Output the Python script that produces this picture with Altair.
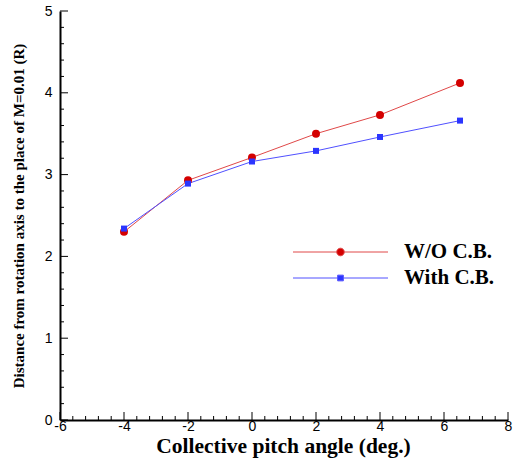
import altair as alt
import pandas as pd

# ---- data ----
pitch = [-4, -2, 0, 2, 4, 6.5]
wo_cb = [2.30, 2.93, 3.21, 3.50, 3.73, 4.12]
with_cb = [2.34, 2.89, 3.16, 3.29, 3.46, 3.66]
series = ["W/O C.B.", "With C.B."]
x_ticks = [-6, -4, -2, 0, 2, 4, 6, 8]
y_ticks = [0, 1, 2, 3, 4, 5]
x_minor = [round(-6 + 0.4 * i, 1) for i in range(36) if i % 5 != 0]
y_minor = [round(0.2 * i, 1) for i in range(26) if i % 5 != 0]

marker_colors = ["#d40000", "#2b35ff"]
line_colors = ["#e04848", "#5050ff"]

df = pd.DataFrame({
    "pitch": pitch * 2,
    "dist": wo_cb + with_cb,
    "series": [series[0]] * len(pitch) + [series[1]] * len(pitch),
})
df_xmaj = pd.DataFrame({"pitch": x_ticks})
df_xmin = pd.DataFrame({"pitch": x_minor})
df_ymaj = pd.DataFrame({"dist": y_ticks})
df_ymin = pd.DataFrame({"dist": y_minor})

SERIF = "Liberation Serif"
SANS = "Liberation Sans"
W, H = 448, 409
MAJOR, MINOR = 8, 4

xscale = alt.Scale(domain=[-6, 8], nice=False, zero=False)
yscale = alt.Scale(domain=[0, 5], nice=False)

# main axes: domain + labels + titles (ticks are drawn inward below)
x_main = alt.Axis(orient="bottom", values=x_ticks, ticks=False, tickSize=0,
                  labelExpr="'' + datum.value", labelFlush=False, labelOverlap=False,
                  labelFont=SANS, labelFontSize=14, labelColor="black", labelPadding=-1,
                  domainColor="black", domainWidth=2,
                  title="Collective pitch angle (deg.)", titleFont=SERIF, titleFontSize=21.5,
                  titleFontWeight="bold", titleColor="black", titleX=223, titleY=32.5,
                  titleBaseline="alphabetic", titleAlign="center")
y_main = alt.Axis(orient="left", values=y_ticks, ticks=False, tickSize=0,
                  labelExpr="'' + datum.value", labelFlush=False, labelOverlap=False,
                  labelFont=SANS, labelFontSize=14, labelColor="black", labelPadding=8,
                  domainColor="black", domainWidth=2,
                  title="Distance from rotation axis to the place of M=0.01 (R)",
                  titleFont=SERIF, titleFontSize=15, titleFontWeight="bold", titleColor="black",
                  titleX=-42, titleY=204.5, titleBaseline="middle", titleAlign="center", titleAngle=270)

# legend symbols: a line with the marker in its middle
sym_circle = "M-1,0H3.6M4.4,0H9M3.6,0A0.4,0.4,0,1,1,4.4,0A0.4,0.4,0,1,1,3.6,0Z"
sym_square = "M-1,0H3.7M4.3,0H9M3.7,-0.3H4.3V0.3H3.7Z"

legend = alt.Legend(
    title=None, orient="none", legendX=232, legendY=230.5, padding=0,
    symbolSize=361, symbolStrokeWidth=1, symbolOpacity=1, labelOffset=91, rowPadding=4,
    labelFont=SERIF, labelFontSize=21, labelFontWeight="bold", labelColor="black",
)

base = alt.Chart(df)
s0 = alt.datum.series == series[0]
s1 = alt.datum.series == series[1]

line0 = base.transform_filter(s0).mark_line(strokeWidth=1, color=line_colors[0]).encode(
    x=alt.X("pitch:Q", scale=xscale, axis=x_main),
    y=alt.Y("dist:Q", scale=yscale, axis=y_main),
)
line1 = base.transform_filter(s1).mark_line(strokeWidth=1, color=line_colors[1]).encode(
    x=alt.X("pitch:Q", scale=xscale),
    y=alt.Y("dist:Q", scale=yscale),
)
circles = base.transform_filter(s0).mark_circle(size=64, opacity=1, color=marker_colors[0]).encode(
    x=alt.X("pitch:Q", scale=xscale),
    y=alt.Y("dist:Q", scale=yscale),
)
squares = base.transform_filter(s1).mark_square(size=36, opacity=1, color=marker_colors[1]).encode(
    x=alt.X("pitch:Q", scale=xscale),
    y=alt.Y("dist:Q", scale=yscale),
)
legend_layer = base.mark_point(filled=True, opacity=0).encode(
    x=alt.X("pitch:Q", scale=xscale),
    y=alt.Y("dist:Q", scale=yscale),
    fill=alt.Fill("series:N", scale=alt.Scale(domain=series, range=marker_colors), legend=legend),
    stroke=alt.Stroke("series:N", scale=alt.Scale(domain=series, range=line_colors), legend=legend),
    shape=alt.Shape("series:N", scale=alt.Scale(domain=series, range=[sym_circle, sym_square]),
                    legend=legend),
)

# inward-pointing tick marks
xmaj = alt.Chart(df_xmaj).mark_rule(color="black", strokeWidth=1).encode(
    x=alt.X("pitch:Q", scale=xscale), y=alt.value(H), y2=alt.value(H - MAJOR))
xmin = alt.Chart(df_xmin).mark_rule(color="black", strokeWidth=1).encode(
    x=alt.X("pitch:Q", scale=xscale), y=alt.value(H), y2=alt.value(H - MINOR))
ymaj = alt.Chart(df_ymaj).mark_rule(color="black", strokeWidth=1).encode(
    y=alt.Y("dist:Q", scale=yscale), x=alt.value(0), x2=alt.value(MAJOR))
ymin = alt.Chart(df_ymin).mark_rule(color="black", strokeWidth=1).encode(
    y=alt.Y("dist:Q", scale=yscale), x=alt.value(0), x2=alt.value(MINOR))

chart = alt.layer(line0, line1, legend_layer, circles, squares, xmaj, xmin, ymaj, ymin).properties(
    width=W, height=H,
    autosize=alt.AutoSizeParams(type="none"),
    padding={"left": 60, "top": 11, "right": 10, "bottom": 44},
    background="white",
).configure_axis(grid=False).configure_view(stroke=None)

chart.save("out.html", embed_options={"renderer": "svg", "actions": False})
